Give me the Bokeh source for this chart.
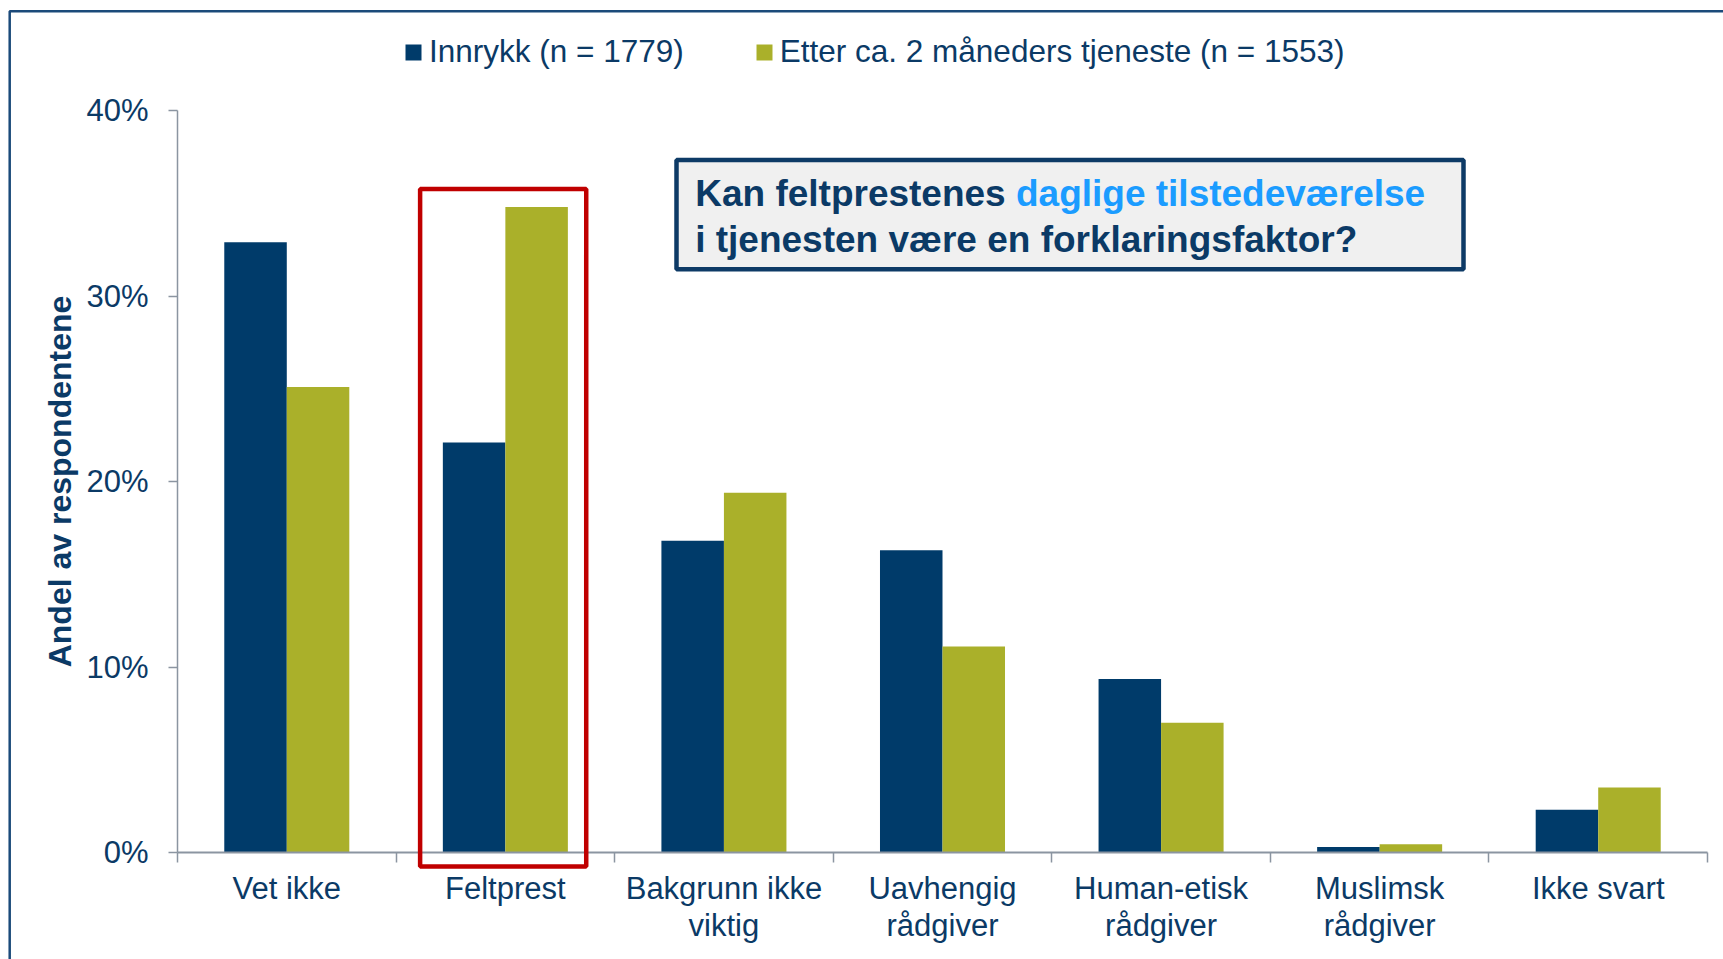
from bokeh.plotting import figure
from bokeh.models import (FixedTicker, BoxAnnotation, Label, PrintfTickFormatter,
                          Range1d, ColumnDataSource, Legend, LegendItem)
from bokeh.transform import dodge
from bokeh.embed import file_html
from bokeh.resources import INLINE

# ---------------- data ----------------
categories = ["Vet ikke", "Feltprest", "Bakgrunn ikke\nviktig", "Uavhengig\nrådgiver",
              "Human-etisk\nrådgiver", "Muslimsk\nrådgiver", "Ikke svart"]
innrykk = [32.9, 22.1, 16.8, 16.3, 9.35, 0.3, 2.3]
etter = [25.1, 34.8, 19.4, 11.1, 7.0, 0.45, 3.5]
series_names = ["Innrykk (n = 1779)", "Etter ca. 2 måneders tjeneste (n = 1553)"]
y_ticks = [0, 10, 20, 30, 40]
y_title = "Andel av respondentene"
highlight_category = "Feltprest"
question_dark_1 = "Kan feltprestenes"
question_blue = "daglige tilstedeværelse"
question_dark_2 = "i tjenesten være en forklaringsfaktor?"

# ---------------- style / layout ----------------
BLUE = "#003B6A"
GREEN = "#AAB02A"
TEXT = "#0B3A66"
AXIS = "#8B95A1"
RED = "#C00000"
HL = "#1B9CFF"
FONT = "Liberation Sans"

W, H = 1723, 959               # canvas
NCAT = len(categories)
YMAX = y_ticks[-1]
AX_L, AX_R = 177, 1707         # chart area, canvas px
AX_T, AX_B = 110, 852
X_PER = (AX_R - AX_L) / NCAT
Y_PER = (AX_B - AX_T) / YMAX


def px2x(px):
    return -0.5 + (px - AX_L) / X_PER


def px2y(py):
    return (AX_B - py) / Y_PER


src = ColumnDataSource(dict(x=list(range(NCAT)), innrykk=innrykk, etter=etter))

p = figure(width=W, height=H, min_border=0,
           x_range=Range1d(px2x(0), px2x(W)), y_range=Range1d(px2y(H), px2y(0)),
           output_backend="svg", toolbar_location=None,
           background_fill_color="white", border_fill_color="white")
p.outline_line_color = None
p.grid.visible = False

BAR_W = 0.286
r1 = p.vbar(x=dodge("x", -BAR_W / 2, range=p.x_range), top="innrykk", width=BAR_W,
            source=src, fill_color=BLUE, line_color=None)
r2 = p.vbar(x=dodge("x", BAR_W / 2, range=p.x_range), top="etter", width=BAR_W,
            source=src, fill_color=GREEN, line_color=None)

# x axis at y=0: labels at category centres, tick marks at category boundaries
xa = p.xaxis[0]
xa.fixed_location = 0
xa.bounds = (-0.5, NCAT - 0.5)
xa.ticker = FixedTicker(ticks=list(range(NCAT)), minor_ticks=[i - 0.5 for i in range(NCAT + 1)])
xa.major_label_overrides = {i: c for i, c in enumerate(categories)}
xa.major_tick_in = 0
xa.major_tick_out = 0
xa.minor_tick_in = 0
xa.minor_tick_out = 10
xa.minor_tick_line_color = AXIS
xa.minor_tick_line_width = 1.5
xa.axis_line_color = AXIS
xa.axis_line_width = 2
xa.major_label_text_font = FONT
xa.major_label_text_font_size = "31px"
xa.major_label_text_color = TEXT
xa.major_label_text_line_height = 1.07
xa.major_label_standoff = 8
xa.major_label_text_align = "center"

ya = p.yaxis[0]
ya.fixed_location = -0.5
ya.bounds = (0, YMAX)
ya.ticker = FixedTicker(ticks=y_ticks, minor_ticks=[])
ya.formatter = PrintfTickFormatter(format="%d%%")
ya.major_tick_in = 0
ya.major_tick_out = 9
ya.major_tick_line_color = AXIS
ya.major_tick_line_width = 1.5
ya.minor_tick_line_color = None
ya.axis_line_color = AXIS
ya.axis_line_width = 1.5
ya.major_label_text_font = FONT
ya.major_label_text_font_size = "31px"
ya.major_label_text_color = TEXT
ya.major_label_standoff = 20
ya.axis_label = y_title
ya.axis_label_text_font = FONT
ya.axis_label_text_font_size = "32px"
ya.axis_label_text_font_style = "bold"
ya.axis_label_text_color = TEXT
ya.axis_label_standoff = 5

# slide frame edges
p.add_layout(BoxAnnotation(left=px2x(9.2), top=px2y(10.7), right=px2x(5000), bottom=px2y(5000),
                           fill_alpha=0, line_color="#1B4A7A", line_alpha=1, line_width=2.5))

# legend
legend = Legend(items=[LegendItem(label=series_names[0], renderers=[r1]),
                       LegendItem(label=series_names[1], renderers=[r2])],
                orientation="horizontal", location=(403, H - 70),
                glyph_width=20, glyph_height=20, label_height=20, label_standoff=6,
                spacing=70, padding=0, margin=0, border_line_color=None,
                background_fill_alpha=0, label_text_font=FONT, label_text_font_size="31.5px",
                label_text_color=TEXT, label_text_baseline="alphabetic")
p.add_layout(legend)

# red highlight box around the chosen category
hi = categories.index(highlight_category)
p.add_layout(BoxAnnotation(left=hi - 0.39, right=hi + 0.37, top=px2y(188.5), bottom=px2y(866),
                           fill_alpha=0, line_color=RED, line_alpha=1, line_width=4.5))

# question box
p.add_layout(BoxAnnotation(left=px2x(676), right=px2x(1463), top=px2y(159.5), bottom=px2y(268.8),
                           fill_color="#F0F0F0", fill_alpha=1, line_color="#0D3A66",
                           line_alpha=1, line_width=4.5))
QFS = 37
for txt, col, yb, xoff in [(question_dark_1, TEXT, 192.5, 0),
                           (question_blue, HL, 192.5, 8.669 * QFS),
                           (question_dark_2, TEXT, 239.2, 0)]:
    p.add_layout(Label(x=px2x(694.7), y=px2y(yb), x_offset=xoff, text=txt, text_font=FONT,
                       text_font_size=f"{QFS}px", text_font_style="bold", text_color=col,
                       text_baseline="alphabetic"))

open("out.html", "w").write(file_html(p, INLINE))
